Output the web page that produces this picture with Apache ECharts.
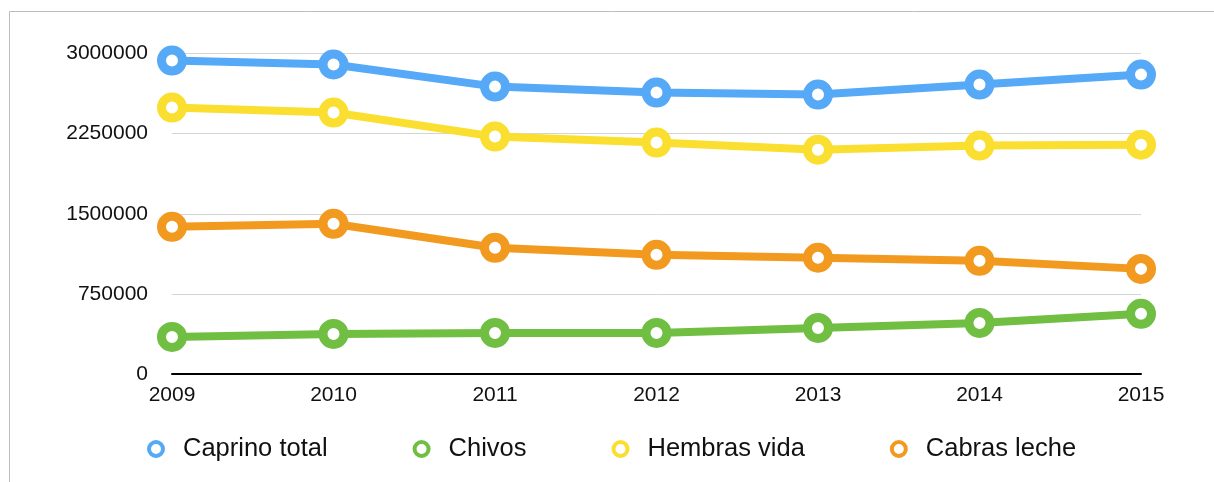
<!DOCTYPE html>
<html>
<head>
<meta charset="utf-8">
<script src="https://cdn.jsdelivr.net/npm/echarts@6/dist/echarts.min.js"></script>
<style>
html,body{margin:0;padding:0;background:#fff;}
#c{width:1214px;height:482px;}
</style>
</head>
<body>
<div id="c"></div>
<script>
const years = ['2009','2010','2011','2012','2013','2014','2015'];
const seriesNames = ['Caprino total','Chivos','Hembras vida','Cabras leche'];
const caprinoTotal = [2934000, 2897000, 2690000, 2634000, 2616000, 2709000, 2803000];
const chivos = [347000, 375000, 384000, 384000, 431000, 478000, 563000];
const hembrasVida = [2494000, 2447000, 2222000, 2166000, 2100000, 2138000, 2147000];
const cabrasLeche = [1378000, 1406000, 1181000, 1116000, 1088000, 1059000, 984000];
const yTicks = [0, 750000, 1500000, 2250000, 3000000];

const colors = ['#55a9f6', '#70be42', '#fbdf30', '#f29a20'];
const values = [caprinoTotal, chivos, hembrasVida, cabrasLeche];
const font = '"Liberation Sans", Arial, Helvetica, sans-serif';

const chart = echarts.init(document.getElementById('c'), null, {renderer:'canvas'});
chart.setOption({
  animation: false,
  backgroundColor: '#fff',
  graphic: [{
    type: 'rect',
    shape: {x: 9.5, y: 11.5, width: 1400, height: 700},
    style: {fill: 'none', stroke: '#bdbdbd', lineWidth: 1},
    silent: true, z: -10
  }],
  grid: {left: 172, right: 73, top: 53.5, bottom: 108, containLabel: false},
  legend: {
    left: 142, top: 431,
    itemGap: 85,
    itemWidth: 16, itemHeight: 14,
    icon: 'circle',
    textStyle: {fontFamily: font, fontSize: 25.5, color: '#111', padding: [0,0,0,14]},
    data: seriesNames.map((n, i) => ({
      name: n,
      itemStyle: {color: '#fff', borderColor: colors[i], borderWidth: 4}
    }))
  },
  xAxis: {
    type: 'category',
    data: years,
    boundaryGap: false,
    axisLine: {lineStyle: {color: '#000', width: 2}},
    axisTick: {show: false},
    axisLabel: {fontFamily: font, fontSize: 21, color: '#111', margin: 11},
    splitLine: {show: false}
  },
  yAxis: {
    type: 'value',
    min: yTicks[0], max: yTicks[yTicks.length-1], interval: yTicks[1]-yTicks[0],
    axisLine: {show: false},
    axisTick: {show: false},
    axisLabel: {fontFamily: font, fontSize: 21, color: '#111', margin: 24,
      formatter: v => String(v)},
    splitLine: {lineStyle: {color: '#d4d4d4', width: 1}}
  },
  series: seriesNames.map((n, i) => ({
    name: n,
    type: 'line',
    data: values[i],
    color: colors[i],
    symbol: 'circle',
    symbolSize: 21,
    showAllSymbol: true,
    lineStyle: {width: 8, color: colors[i]},
    itemStyle: {color: '#fff', borderColor: colors[i], borderWidth: 9},
    emphasis: {disabled: true}
  }))
});
</script>
</body>
</html>
